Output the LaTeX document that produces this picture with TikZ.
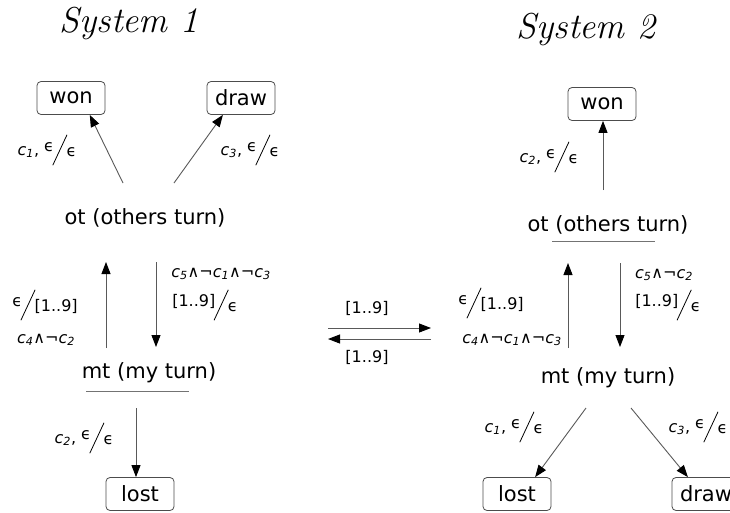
\documentclass[tikz,border=0pt]{standalone}
\usepackage{fontspec}
\usepackage{graphicx}
\usetikzlibrary{arrows.meta,positioning}
\newfontfamily\djv{DejaVu Sans}
% c with a subscript, and an input/output pair split by a long slash
\newcommand\cv[1]{\textit{c}\textsubscript{\textit{#1}}}
\newcommand\io[2]{\raisebox{0.25em}{#1}\kern-0.1em\raisebox{-0.65em}{\rotatebox{65}{\rule{2.1em}{0.05em}}}\kern-0.05em\raisebox{-0.1em}{#2}}

\begin{document}
\begin{tikzpicture}[x=1pt, y=-1pt,
  >={Triangle[length=12pt, width=9pt, color=black]},
  title/.style={font=\fontsize{36}{42}\selectfont\itshape, anchor=base},
  statebox/.style={draw=black!70, line width=0.8pt, rounded corners=4pt,
                   minimum width=68pt, minimum height=33pt, inner sep=0pt,
                   font=\djv\fontsize{21}{25}\selectfont},
  statetxt/.style={font=\djv\fontsize{21}{25}\selectfont, inner sep=2pt},
  lbl/.style={font=\djv\fontsize{16}{19}\selectfont, inner sep=1pt},
  e/.style={->, draw=black!65, line width=0.9pt},
  uline/.style={draw=black!55, line width=0.9pt}
]
\useasboundingbox (0,0) rectangle (730,512);

\node[title] (sys1) at (129,32) {System 1};
\node[title] (sys2) at (586,38) {System 2};

% System 1
\node[statebox] (won1)  at (71,98)   {won};
\node[statebox] (draw1) at (241,98)  {draw};
\node[statetxt] (ot1)   at (145,218) {ot (others turn)};
\node[statetxt] (mt1)   at (149,373) {mt (my turn)};
\node[statebox] (lost1) at (140,494) {lost};

\coordinate (ot1a)  at (123,183);
\coordinate (ot1b)  at (174,183);
\coordinate (mt1up) at (106,348);
\coordinate (ot1up) at (106,262);
\coordinate (ot1dn) at (156,262);
\coordinate (mt1dn) at (156,347);
\coordinate (mt1lo) at (136,408);

\draw[e] (ot1a)  -- (won1.-42);
\draw[e] (ot1b)  -- (draw1.-137);
\draw[e] (mt1up) -- (ot1up);
\draw[e] (ot1dn) -- (mt1dn);
\draw[e] (mt1lo) -- (mt1lo |- lost1.north);
\draw[uline] (86,391) -- (189,391);

\node[lbl] (l1won)  at (47,150)  {\cv{1}, \io{ϵ}{ϵ}};
\node[lbl] (l1draw) at (250,150) {\cv{3}, \io{ϵ}{ϵ}};
\node[lbl] (l1up)   at (45,305)  {\io{ϵ}{[1..9]}};
\node[lbl] (l1upc)  at (46,340)  {\cv{4}∧¬\cv{2}};
\node[lbl] (l1dnc)  at (221,274) {\cv{5}∧¬\cv{1}∧¬\cv{3}};
\node[lbl] (l1dn)   at (205,305) {\io{[1..9]}{ϵ}};
\node[lbl] (l1lost) at (84,438)  {\cv{2}, \io{ϵ}{ϵ}};

% between the systems
\coordinate (mid1) at (328,328);
\coordinate (mid2) at (431,328);
\coordinate (mid3) at (431,339);
\coordinate (mid4) at (328,339);
\draw[e] (mid1) -- (mid2);
\draw[e] (mid3) -- (mid4);
\node[lbl] (lmid1) at (367,308) {[1..9]};
\node[lbl] (lmid2) at (367,357) {[1..9]};

% System 2
\node[statebox] (won2)  at (602,104) {won};
\node[statetxt] (ot2)   at (608,225) {ot (others turn)};
\node[statetxt] (mt2)   at (608,378) {mt (my turn)};
\node[statebox] (lost2) at (517,494) {lost};
\node[statebox] (draw2) at (706,494) {draw};

\coordinate (ot2hi) at (603,190);
\coordinate (mt2up) at (568,348);
\coordinate (ot2up) at (568,263);
\coordinate (ot2dn) at (620,263);
\coordinate (mt2dn) at (620,347);
\coordinate (mt2a)  at (586,408);
\coordinate (mt2b)  at (631,408);

\draw[e] (ot2hi) -- (ot2hi |- won2.south);
\draw[e] (mt2up) -- (ot2up);
\draw[e] (ot2dn) -- (mt2dn);
\draw[e] (mt2a)  -- (lost2.43);
\draw[e] (mt2b)  -- (draw2.137);
\draw[uline] (552,241) -- (655,241);

\node[lbl] (l2won)  at (549,157) {\cv{2}, \io{ϵ}{ϵ}};
\node[lbl] (l2up)   at (491,303) {\io{ϵ}{[1..9]}};
\node[lbl] (l2upc)  at (512,340) {\cv{4}∧¬\cv{1}∧¬\cv{3}};
\node[lbl] (l2dnc)  at (664,275) {\cv{5}∧¬\cv{2}};
\node[lbl] (l2dn)   at (668,305) {\io{[1..9]}{ϵ}};
\node[lbl] (l2lost) at (514,427) {\cv{1}, \io{ϵ}{ϵ}};
\node[lbl] (l2draw) at (698,427) {\cv{3}, \io{ϵ}{ϵ}};

\end{tikzpicture}
\end{document}
